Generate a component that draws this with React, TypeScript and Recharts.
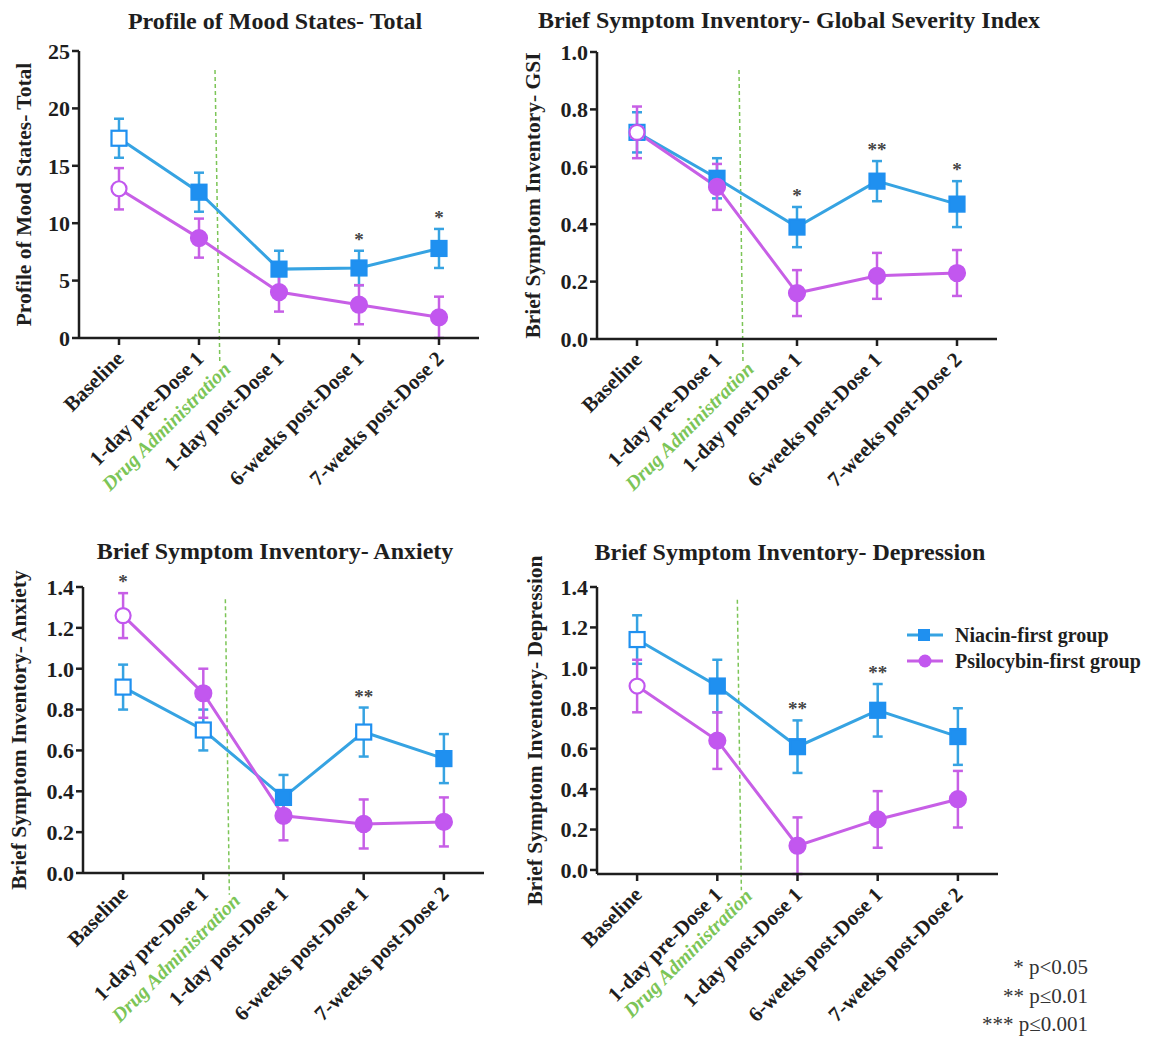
import React from "react";
import {
  ComposedChart,
  XAxis,
  YAxis,
  Line,
  ErrorBar,
  ReferenceLine,
  ReferenceDot,
  Legend
} from "recharts";

const categories = [
  "Baseline",
  "1-day pre-Dose 1",
  "1-day post-Dose 1",
  "6-weeks post-Dose 1",
  "7-weeks post-Dose 2"
];

// Profile of Mood States - Total
const pomsNiacin = [17.4, 12.7, 6.0, 6.1, 7.8];
const pomsNiacinErr = [1.7, 1.7, 1.6, 1.5, 1.7];
const pomsPsilo = [13.0, 8.7, 4.0, 2.9, 1.8];
const pomsPsiloErr = [1.8, 1.7, 1.7, 1.7, 1.8];
const pomsNiacinOpen = [true, false, false, false, false];
const pomsPsiloOpen = [true, false, false, false, false];
const pomsStars = ["", "", "", "*", "*"];
const pomsTicks = [0, 5, 10, 15, 20, 25];

// BSI - Global Severity Index
const gsiNiacin = [0.72, 0.56, 0.39, 0.55, 0.47];
const gsiNiacinErr = [0.07, 0.07, 0.07, 0.07, 0.08];
const gsiPsilo = [0.72, 0.53, 0.16, 0.22, 0.23];
const gsiPsiloErr = [0.09, 0.08, 0.08, 0.08, 0.08];
const gsiNiacinOpen = [true, false, false, false, false];
const gsiPsiloOpen = [true, false, false, false, false];
const gsiStars = ["", "", "*", "**", "*"];
const gsiTicks = [0, 0.2, 0.4, 0.6, 0.8, 1.0];

// BSI - Anxiety
const anxNiacin = [0.91, 0.7, 0.37, 0.69, 0.56];
const anxNiacinErr = [0.11, 0.1, 0.11, 0.12, 0.12];
const anxPsilo = [1.26, 0.88, 0.28, 0.24, 0.25];
const anxPsiloErr = [0.11, 0.12, 0.12, 0.12, 0.12];
const anxNiacinOpen = [true, true, false, true, false];
const anxPsiloOpen = [true, false, false, false, false];
const anxStars = ["*", "", "", "**", ""];
const anxTicks = [0, 0.2, 0.4, 0.6, 0.8, 1.0, 1.2, 1.4];

// BSI - Depression
const depNiacin = [1.14, 0.91, 0.61, 0.79, 0.66];
const depNiacinErr = [0.12, 0.13, 0.13, 0.13, 0.14];
const depPsilo = [0.91, 0.64, 0.12, 0.25, 0.35];
const depPsiloErr = [0.13, 0.14, 0.14, 0.14, 0.14];
const depNiacinOpen = [true, false, false, false, false];
const depPsiloOpen = [true, false, false, false, false];
const depStars = ["", "", "**", "**", ""];
const depTicks = [0, 0.2, 0.4, 0.6, 0.8, 1.0, 1.2, 1.4];

const FONT = '"Liberation Serif", "Times New Roman", serif';
const INK = "#1e1e1e";
const BLUE_LINE = "#36a3e2";
const BLUE_MARK = "#1f90f0";
const PURPLE_LINE = "#c75fe6";
const PURPLE_MARK = "#c257ef";
const GREEN = "#7cc557";

type Row = { i: number; n: number; nErr: number; p: number; pErr: number };

function buildRows(n: number[], ne: number[], p: number[], pe: number[]): Row[] {
  return categories.map((_, i) => ({ i, n: n[i], nErr: ne[i], p: p[i], pErr: pe[i] }));
}

const XTick = (props: any) => {
  const { x, y, payload } = props;
  return (
    <g transform={`translate(${x + 6},${y + 13})`}>
      <text
        transform="rotate(-45)"
        textAnchor="end"
        fontFamily={FONT}
        fontWeight="bold"
        fontSize={21}
        fill={INK}
      >
        {categories[payload.value]}
      </text>
    </g>
  );
};

const AxisTitle = (props: any) => {
  const { viewBox, text, posX } = props;
  const cy = viewBox.y + viewBox.height / 2;
  return (
    <text
      x={posX}
      y={cy}
      transform={`rotate(-90, ${posX}, ${cy})`}
      textAnchor="middle"
      dominantBaseline="central"
      fontFamily={FONT}
      fontWeight="bold"
      fontSize={21.5}
      fill={INK}
    >
      {text}
    </text>
  );
};

function makeDot(open: boolean[], color: string, square: boolean) {
  return (props: any) => {
    const { cx, cy, index } = props;
    const hollow = open[index];
    if (square) {
      return (
        <rect
          key={`sq-${index}`}
          x={cx - 7.5}
          y={cy - 7.5}
          width={15}
          height={15}
          fill={hollow ? "#fff" : color}
          stroke={color}
          strokeWidth={2.2}
        />
      );
    }
    return (
      <circle
        key={`ci-${index}`}
        cx={cx}
        cy={cy}
        r={hollow ? 7.5 : 8}
        fill={hollow ? "#fff" : color}
        stroke={color}
        strokeWidth={2.2}
      />
    );
  };
}

type PanelProps = {
  rows: Row[];
  yMax: number;
  yTicks: number[];
  decimals: number;
  yLabel: string;
  labelX: number;
  nOpen: boolean[];
  pOpen: boolean[];
  stars: string[];
  drugTop: [number, number];
  drugBottom: [number, number];
  left: number;
  top: number;
  width: number;
  height: number;
  margin: { top: number; right: number; bottom: number; left: number };
  legend?: boolean;
};

function Panel(pp: PanelProps) {
  const starDots = pp.rows
    .map((r, i) => ({
      i,
      s: pp.stars[i],
      y: Math.max(r.n + r.nErr, r.p + r.pErr)
    }))
    .filter((d) => d.s);

  return (
    <div style={{ position: "absolute", left: pp.left, top: pp.top }}>
      <ComposedChart width={pp.width} height={pp.height} data={pp.rows} margin={pp.margin}>
        <XAxis
          type="number"
          dataKey="i"
          domain={[-0.5, 4.5]}
          ticks={[0, 1, 2, 3, 4]}
          interval={0}
          height={30}
          tick={<XTick />}
          tickSize={7}
          axisLine={{ stroke: INK, strokeWidth: 2.5 }}
          tickLine={{ stroke: INK, strokeWidth: 2.5 }}
        />
        <YAxis
          type="number"
          domain={[0, pp.yMax]}
          ticks={pp.yTicks}
          interval={0}
          width={50}
          tickSize={7}
          tickMargin={2}
          tickFormatter={(v: number) => v.toFixed(pp.decimals)}
          tick={{ fontFamily: FONT, fontWeight: "bold", fontSize: 22, fill: INK }}
          axisLine={{ stroke: INK, strokeWidth: 2.5 }}
          tickLine={{ stroke: INK, strokeWidth: 2.5 }}
          label={<AxisTitle text={pp.yLabel} posX={pp.labelX} />}
        />
        <ReferenceLine
          segment={[
            { x: pp.drugTop[0], y: pp.drugTop[1] },
            { x: pp.drugBottom[0], y: pp.drugBottom[1] }
          ]}
          stroke={GREEN}
          strokeWidth={1.5}
          strokeDasharray="4 3"
          ifOverflow="visible"
        />
        <ReferenceDot
          x={pp.drugBottom[0]}
          y={pp.drugBottom[1]}
          ifOverflow="visible"
          shape={(p: any) => (
            <g transform={`translate(${p.cx + 12},${p.cy + 7})`}>
              <text
                transform="rotate(-45)"
                textAnchor="end"
                fontFamily={FONT}
                fontWeight="bold"
                fontStyle="italic"
                fontSize={20}
                fill={GREEN}
              >
                Drug Administration
              </text>
            </g>
          )}
        />
        <Line
          type="linear"
          dataKey="n"
          name="Niacin-first group"
          stroke={BLUE_LINE}
          strokeWidth={3}
          dot={makeDot(pp.nOpen, BLUE_MARK, true)}
          activeDot={false}
          isAnimationActive={false}
        >
          <ErrorBar dataKey="nErr" width={5} stroke={BLUE_LINE} strokeWidth={2.5} isAnimationActive={false} />
        </Line>
        <Line
          type="linear"
          dataKey="p"
          name="Psilocybin-first group"
          stroke={PURPLE_LINE}
          strokeWidth={3}
          dot={makeDot(pp.pOpen, PURPLE_MARK, false)}
          activeDot={false}
          isAnimationActive={false}
        >
          <ErrorBar dataKey="pErr" width={5} stroke={PURPLE_LINE} strokeWidth={2.5} isAnimationActive={false} />
        </Line>
        {starDots.map((d) => (
          <ReferenceDot
            key={`star-${d.i}`}
            x={d.i}
            y={d.y}
            ifOverflow="visible"
            shape={(p: any) => (
              <text
                x={p.cx}
                y={p.cy - 5}
                textAnchor="middle"
                fontFamily={FONT}
                fontWeight="bold"
                fontSize={19}
                fill="#444"
              >
                {d.s}
              </text>
            )}
          />
        ))}
        {pp.legend && (
          <Legend
            layout="vertical"
            align="center"
            verticalAlign="middle"
            wrapperStyle={{ left: 405, top: 92, width: 250, height: 56 }}
            content={(lp: any) => (
              <div>
                {(lp.payload || []).map((e: any, k: number) => (
                  <div
                    key={k}
                    style={{ display: "flex", alignItems: "center", height: 26 }}
                  >
                    <svg width={40} height={20}>
                      <line x1={2} y1={10} x2={38} y2={10} stroke={k === 0 ? BLUE_LINE : PURPLE_LINE} strokeWidth={3} />
                      {k === 0 ? (
                        <rect x={13} y={4} width={12} height={12} fill={BLUE_MARK} />
                      ) : (
                        <circle cx={20} cy={10} r={6.5} fill={PURPLE_MARK} />
                      )}
                    </svg>
                    <span
                      style={{
                        marginLeft: 10,
                        fontFamily: FONT,
                        fontWeight: "bold",
                        fontSize: 20,
                        color: INK
                      }}
                    >
                      {e.value}
                    </span>
                  </div>
                ))}
              </div>
            )}
          />
        )}
      </ComposedChart>
    </div>
  );
}

const titleStyle: React.CSSProperties = {
  position: "absolute",
  fontFamily: FONT,
  fontWeight: "bold",
  fontSize: 24,
  lineHeight: "26px",
  color: INK,
  textAlign: "center",
  whiteSpace: "nowrap"
};

export default function App() {
  return (
    <div
      style={{
        position: "absolute",
        left: 0,
        top: 0,
        width: 1152,
        height: 1041,
        background: "#fff",
        overflow: "hidden"
      }}
    >
      <div style={{ ...titleStyle, left: 25, width: 500, top: 8 }}>Profile of Mood States- Total</div>
      <div style={{ ...titleStyle, left: 489, width: 600, top: 7 }}>
        Brief Symptom Inventory- Global Severity Index
      </div>
      <div style={{ ...titleStyle, left: 25, width: 500, top: 538 }}>Brief Symptom Inventory- Anxiety</div>
      <div style={{ ...titleStyle, left: 490, width: 600, top: 539 }}>Brief Symptom Inventory- Depression</div>

      <Panel
        rows={buildRows(pomsNiacin, pomsNiacinErr, pomsPsilo, pomsPsiloErr)}
        yMax={25}
        yTicks={pomsTicks}
        decimals={0}
        yLabel="Profile of Mood States- Total"
        labelX={24}
        nOpen={pomsNiacinOpen}
        pOpen={pomsPsiloOpen}
        stars={pomsStars}
        drugTop={[1.2, 23.35]}
        drugBottom={[1.26, -2.2]}
        left={0}
        top={0}
        width={520}
        height={530}
        margin={{ top: 51, right: 41, bottom: 162, left: 29 }}
      />
      <Panel
        rows={buildRows(gsiNiacin, gsiNiacinErr, gsiPsilo, gsiPsiloErr)}
        yMax={1.0}
        yTicks={gsiTicks}
        decimals={1}
        yLabel="Brief Symptom Inventory- GSI"
        labelX={33}
        nOpen={gsiNiacinOpen}
        pOpen={gsiPsiloOpen}
        stars={gsiStars}
        drugTop={[1.275, 0.937]}
        drugBottom={[1.325, -0.084]}
        left={500}
        top={0}
        width={652}
        height={530}
        margin={{ top: 52, right: 155, bottom: 161, left: 47 }}
      />
      <Panel
        rows={buildRows(anxNiacin, anxNiacinErr, anxPsilo, anxPsiloErr)}
        yMax={1.4}
        yTicks={anxTicks}
        decimals={1}
        yLabel="Brief Symptom Inventory- Anxiety"
        labelX={19}
        nOpen={anxNiacinOpen}
        pOpen={anxPsiloOpen}
        stars={anxStars}
        drugTop={[1.275, 1.34]}
        drugBottom={[1.325, -0.107]}
        left={0}
        top={530}
        width={520}
        height={511}
        margin={{ top: 57, right: 36, bottom: 138, left: 33 }}
      />
      <Panel
        rows={buildRows(depNiacin, depNiacinErr, depPsilo, depPsiloErr)}
        yMax={1.4}
        yTicks={depTicks}
        decimals={1}
        yLabel="Brief Symptom Inventory- Depression"
        labelX={35}
        nOpen={depNiacinOpen}
        pOpen={depPsiloOpen}
        stars={depStars}
        drugTop={[1.25, 1.337]}
        drugBottom={[1.3, -0.1]}
        left={500}
        top={530}
        width={652}
        height={511}
        margin={{ top: 57, right: 154, bottom: 137, left: 47 }}
        legend
      />

      <div
        style={{
          position: "absolute",
          right: 64,
          top: 953,
          fontFamily: FONT,
          fontSize: 21,
          lineHeight: "28.5px",
          color: "#333",
          textAlign: "right"
        }}
      >
        <div>* p&lt;0.05</div>
        <div>** p≤0.01</div>
        <div>*** p≤0.001</div>
      </div>
    </div>
  );
}
